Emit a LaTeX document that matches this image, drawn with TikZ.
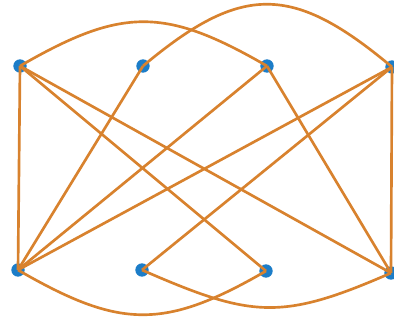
\documentclass[tikz,border=0pt]{standalone}
\definecolor{edgeor}{RGB}{216,130,46}
\definecolor{dotblue}{RGB}{28,125,200}
\begin{document}
\begin{tikzpicture}[x=0.75pt,y=-0.75pt,
  dot/.style={circle,fill=dotblue,inner sep=0pt,minimum size=10pt},
  edge/.style={draw=edgeor,line width=2pt}]
\useasboundingbox (0,0) rectangle (394,320);
\node[dot] (T1) at (20,66) {};
\node[dot] (T2) at (143,66) {};
\node[dot] (T3) at (267,66) {};
\node[dot] (T4) at (392,67) {};
\node[dot] (B1) at (18,270) {};
\node[dot] (B2) at (142,270) {};
\node[dot] (B3) at (266,271) {};
\node[dot] (B4) at (391,273) {};
\path[edge] (T1.center) .. controls +(102,-59) and +(-102,-59) .. (T3.center);
\path[edge] (T2.center) .. controls +(99,-83) and +(-99,-83) .. (T4.center);
\path[edge] (B1.center) .. controls +(102,59) and +(-102,59) .. (B3.center);
\path[edge] (B2.center) .. controls +(110,48) and +(-110,48) .. (B4.center);
\path[edge] (T1.center) -- (B1.center);
\path[edge] (T1.center) -- (B3.center);
\path[edge] (T1.center) -- (B4.center);
\path[edge] (T2.center) -- (B1.center);
\path[edge] (T3.center) -- (B1.center);
\path[edge] (T3.center) -- (B4.center);
\path[edge] (T4.center) -- (B1.center);
\path[edge] (T4.center) -- (B2.center);
\path[edge] (T4.center) -- (B4.center);
\end{tikzpicture}
\end{document}
